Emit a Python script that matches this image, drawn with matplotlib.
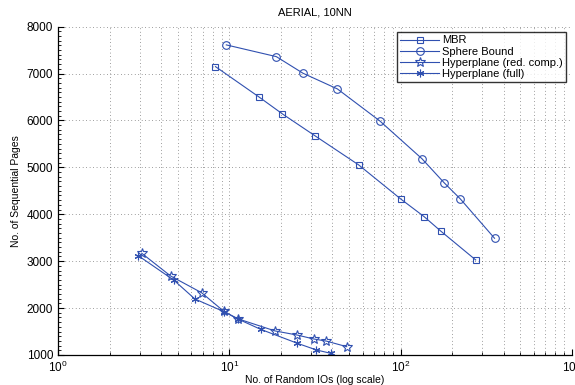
import numpy as np
from matplotlib import pyplot as plt
from matplotlib.ticker import LogLocator, MultipleLocator, NullFormatter

plt.rcParams['font.family'] = ['Liberation Sans', 'DejaVu Sans']
plt.rcParams['mathtext.default'] = 'regular'

# data
mbr_x = [8.3, 14.8, 20.4, 31.5, 56.9, 100, 137, 171, 274]
mbr_y = [7147, 6507, 6139, 5676, 5051, 4326, 3949, 3644, 3026]

sphere_x = [9.6, 18.8, 26.9, 42.7, 75.5, 133, 179, 223, 353]
sphere_y = [7610, 7360, 7006, 6672, 5990, 5185, 4674, 4326, 3488]

hyp_red_x = [3.08, 4.54, 6.88, 9.3, 11.2, 18.5, 24.8, 31.1, 36.9, 48.4]
hyp_red_y = [3168, 2684, 2328, 1928, 1772, 1512, 1426, 1341, 1295, 1177]

hyp_full_x = [2.94, 4.75, 6.29, 9.3, 11.2, 15.2, 24.9, 32.2, 39.0]
hyp_full_y = [3117, 2593, 2194, 1923, 1768, 1548, 1250, 1107, 1036]

labels = ['MBR', 'Sphere Bound', 'Hyperplane (red. comp.)', 'Hyperplane (full)']
col = '#3050b0'

fig = plt.figure(figsize=(5.75, 3.85), dpi=100)
ax = fig.add_axes([0.1009, 0.078, 0.8939, 0.8529])

ax.plot(mbr_x, mbr_y, color=col, lw=0.8, marker='s', ms=4.5, mfc='none', mew=0.8, label=labels[0])
ax.plot(sphere_x, sphere_y, color=col, lw=0.8, marker='o', ms=5.5, mfc='none', mew=0.8, label=labels[1])
ax.plot(hyp_red_x, hyp_red_y, color=col, lw=0.8, marker='*', ms=7.5, mfc='none', mew=0.8, label=labels[2])
ax.plot(hyp_full_x, hyp_full_y, color=col, lw=0.8, marker=(6, 2, 0), ms=5.5, mew=0.8, label=labels[3])

ax.set_xscale('log')
ax.set_xlim(1, 1000)
ax.set_ylim(1000, 8000)
ax.yaxis.set_major_locator(MultipleLocator(1000))
ax.yaxis.set_minor_locator(MultipleLocator(100))
ax.xaxis.set_major_locator(LogLocator(base=10))
ax.xaxis.set_minor_locator(LogLocator(base=10, subs=np.arange(2, 10)))
ax.xaxis.set_minor_formatter(NullFormatter())

ax.grid(True, which='major', axis='both', ls=(0, (1, 4)), color='#444444', lw=0.5)
ax.grid(True, which='minor', axis='x', ls=(0, (1, 4)), color='#444444', lw=0.5)

ax.tick_params(which='both', direction='in', top=False, right=False, labelsize=8.5, colors='k')
ax.tick_params(which='major', length=4, width=0.8)
ax.tick_params(which='minor', length=2, width=0.6)
for s in ['top', 'right']:
    ax.spines[s].set_visible(False)
for s in ['left', 'bottom']:
    ax.spines[s].set_linewidth(0.9)

ax.set_title('AERIAL, 10NN', fontsize=8, pad=8)
ax.set_xlabel('No. of Random IOs (log scale)', fontsize=7.5, labelpad=0)
ax.set_ylabel('No. of Sequential Pages', fontsize=7.5, labelpad=4)

leg = ax.legend(loc='upper right', fontsize=8, frameon=True, fancybox=False,
                edgecolor='k', borderpad=0.3, labelspacing=0.1, handlelength=3.5,
                handletextpad=0.3, borderaxespad=0.5)
leg.get_frame().set_linewidth(1.0)

fig.savefig('out.png', dpi=100)
